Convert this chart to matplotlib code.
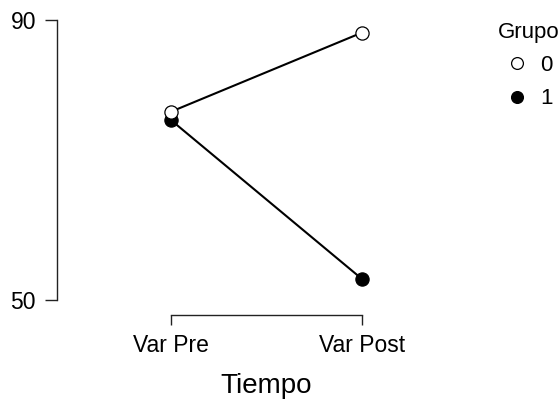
import matplotlib
matplotlib.use("Agg")
import matplotlib.pyplot as plt
from matplotlib.lines import Line2D

plt.rcParams['font.family'] = ['Liberation Sans', 'DejaVu Sans']

# Data
tiempo = ["Var Pre", "Var Post"]
grupos = ["0", "1"]
grupo0 = [76.9, 88.2]
grupo1 = [75.7, 53.0]
y_ticks = [50, 90]

W, H = 560, 399
fig = plt.figure(figsize=(W / 100, H / 100), dpi=100)

# axes placed in pixel terms
left_px, right_px, top_px, bot_px = 57, 420, 20, 300
ax = fig.add_axes([left_px / W, (H - bot_px) / H,
                   (right_px - left_px) / W, (bot_px - top_px) / H])

x0_px, x1_px = 171, 362
scale = x1_px - x0_px
ax.set_xlim((left_px - x0_px) / scale, (right_px - x0_px) / scale)
ax.set_ylim(50, 90)

xs = list(range(len(tiempo)))
ms = 9.5
ax.plot(xs, grupo1, color='black', lw=1.5, zorder=2, clip_on=False)
ax.plot(xs, grupo0, color='black', lw=1.5, zorder=2, clip_on=False)
ax.plot(xs, grupo0, linestyle='none', marker='o', ms=ms, mfc='white',
        mec='black', mew=0.9, zorder=4, clip_on=False)
ax.plot(xs, grupo1, linestyle='none', marker='o', ms=ms, mfc='black',
        mec='black', mew=0.9, zorder=3, clip_on=False)

for s in ['top', 'right']:
    ax.spines[s].set_visible(False)
ax.spines['left'].set_bounds(50, 90)
ax.spines['bottom'].set_bounds(0, 1)
ax.spines['bottom'].set_position(('outward', 10.8))
for s in ['left', 'bottom']:
    ax.spines[s].set_linewidth(1.0)
    ax.spines[s].set_color('#222222')

ax.set_yticks(y_ticks)
ax.set_xticks(xs)
ax.set_xticklabels(tiempo)
ax.tick_params(axis='y', length=8.6, width=1.0, pad=6.5, labelsize=16.5, color='#222222')
ax.tick_params(axis='x', length=7.2, width=1.0, pad=6.5, labelsize=16.5, color='#222222')

# axis title centred between the two time points
label_x = ((x0_px + x1_px) / 2 - left_px) / (right_px - left_px)
ax.set_xlabel("Tiempo", fontsize=20)
ax.xaxis.set_label_coords(label_x, -0.26)

handles = [
    Line2D([], [], linestyle='none', marker='o', ms=8.5, mfc='white', mec='black', mew=0.9),
    Line2D([], [], linestyle='none', marker='o', ms=8.5, mfc='black', mec='black', mew=0.9),
]
leg = fig.legend(handles, grupos, title="Grupo", loc='upper left',
                 bbox_to_anchor=(498 / W, 1 - 22 / H), frameon=False,
                 fontsize=16, title_fontsize=16, alignment='left',
                 handlelength=1.7, handletextpad=0.2, labelspacing=0.55,
                 borderaxespad=0, borderpad=0)

fig.savefig("out.png", dpi=100)
